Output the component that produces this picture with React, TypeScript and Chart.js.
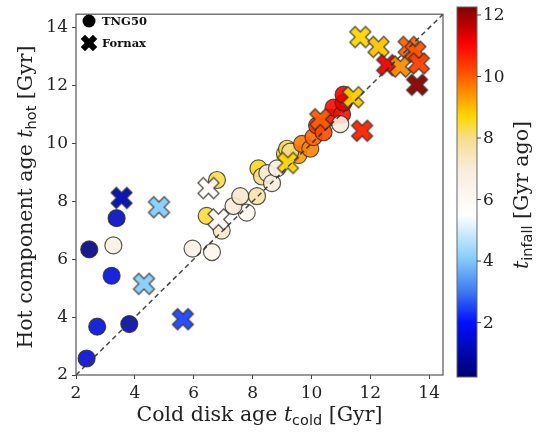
import { useEffect, useRef } from "react";
import { Chart, registerables } from "chart.js";

Chart.register(...registerables);

// TNG50 satellites: cold-disk age, hot-component age, infall time (Gyr)
const tngCold = [2.45, 3.38, 3.27, 3.21, 2.72, 3.81, 2.36, 5.96, 6.62, 6.95, 6.44, 6.79, 7.8, 7.35, 7.58, 8.15, 8.2, 8.32, 8.5, 8.66, 8.83, 9.1, 9.17, 9.56, 9.28, 9.68, 9.96, 10.07, 10.19, 10.41, 10.64, 10.75, 11.04, 11.09, 11.09, 10.98];
const tngHot = [6.34, 7.42, 6.48, 5.43, 3.67, 3.76, 2.57, 6.37, 6.25, 6.99, 7.5, 8.74, 7.61, 7.84, 8.18, 8.18, 9.14, 8.86, 8.98, 8.63, 9.14, 9.65, 9.82, 9.6, 9.72, 9.99, 9.82, 10.22, 10.62, 10.39, 10.9, 11.24, 11.01, 11.41, 11.69, 10.67];
const tngInfall = [0.4, 1.3, 6.6, 1.6, 1.6, 1.0, 1.5, 6.6, 6.2, 7.2, 8.4, 8.3, 6.0, 7.0, 7.2, 7.6, 8.6, 8.0, 7.0, 6.9, 6.6, 8.5, 8.3, 9.3, 8.0, 9.7, 9.6, 9.9, 10.5, 10.2, 10.9, 11.0, 10.9, 11.3, 11.2, 7.0];

// Fornax galaxies
const fnxCold = [3.55, 4.82, 4.31, 5.63, 6.5, 6.84, 9.2, 10.3, 11.42, 11.72, 11.66, 12.28, 12.57, 13.02, 13.3, 13.53, 13.65, 13.59];
const fnxHot = [8.12, 7.8, 5.15, 3.93, 8.46, 7.38, 9.33, 10.84, 11.6, 10.44, 13.68, 13.34, 12.71, 12.66, 13.34, 13.17, 12.77, 12.03];
const fnxInfall = [1.1, 4.1, 4.1, 2.5, 5.8, 5.7, 8.7, 10.0, 8.8, 10.7, 8.7, 8.9, 11.2, 9.5, 9.9, 10.1, 10.3, 12.2];

const axisTicks = [2, 4, 6, 8, 10, 12, 14];
const axisMin = 2;
const axisMax = 14.47;
const oneToOne = [2, 14.47];

const colorbarTicks = [2, 4, 6, 8, 10, 12];
const infallMin = 0.23;
const infallMax = 12.26;

const legendLabels = ["TNG50", "Fornax"];

// diverging map: navy -> blue -> sky -> white -> cream -> gold -> orange -> red -> dark red
const cmapStops: [number, number[]][] = [
  [0.0, [0, 0, 112]],
  [0.147, [0, 16, 250]],
  [0.23, [60, 120, 240]],
  [0.322, [135, 206, 250]],
  [0.438, [255, 255, 255]],
  [0.563, [248, 236, 220]],
  [0.646, [247, 221, 140]],
  [0.704, [255, 215, 0]],
  [0.762, [255, 150, 0]],
  [0.837, [255, 64, 0]],
  [0.903, [250, 0, 0]],
  [1.0, [128, 0, 0]],
];

function cmap(v: number, alpha = 1): string {
  let f = (v - infallMin) / (infallMax - infallMin);
  f = Math.max(0, Math.min(1, f));
  for (let i = 1; i < cmapStops.length; i++) {
    const [f1, c1] = cmapStops[i];
    const [f0, c0] = cmapStops[i - 1];
    if (f <= f1) {
      const t = (f - f0) / (f1 - f0);
      const c = c0.map((a, k) => Math.round(a + (c1[k] - a) * t));
      return `rgba(${c[0]},${c[1]},${c[2]},${alpha})`;
    }
  }
  const c = cmapStops[cmapStops.length - 1][1];
  return `rgba(${c[0]},${c[1]},${c[2]},${alpha})`;
}

const EDGE = "rgba(45,45,35,0.8)";
const FONT_SERIF = "'DejaVu Serif', serif";
const FONT_SANS = "'DejaVu Sans', sans-serif";

// filled "X" marker, cached per colour
const xCache = new Map<string, HTMLCanvasElement>();
function xMarker(fill: string, size: number, edge: string, lw: number): HTMLCanvasElement {
  const key = `${fill}|${size}|${edge}|${lw}`;
  const hit = xCache.get(key);
  if (hit) return hit;
  const S = Math.ceil(size + 4);
  const c = document.createElement("canvas");
  c.width = S;
  c.height = S;
  const g = c.getContext("2d")!;
  g.translate(S / 2, S / 2);
  g.rotate(Math.PI / 4);
  const u = size / 5.657;
  const pts = [[-1, -3], [1, -3], [1, -1], [3, -1], [3, 1], [1, 1], [1, 3], [-1, 3], [-1, 1], [-3, 1], [-3, -1], [-1, -1]];
  g.beginPath();
  pts.forEach(([a, b], i) => (i ? g.lineTo(a * u, b * u) : g.moveTo(a * u, b * u)));
  g.closePath();
  g.fillStyle = fill;
  g.fill();
  g.lineJoin = "miter";
  g.lineWidth = lw;
  g.strokeStyle = edge;
  g.stroke();
  xCache.set(key, c);
  return c;
}

type Part = { t: string; font: string; dy?: number };

function drawParts(ctx: CanvasRenderingContext2D, parts: Part[], cx: number, cy: number, angle: number) {
  ctx.save();
  ctx.translate(cx, cy);
  ctx.rotate(angle);
  ctx.textBaseline = "alphabetic";
  ctx.textAlign = "left";
  let total = 0;
  const widths = parts.map((p) => {
    ctx.font = p.font;
    const w = ctx.measureText(p.t).width;
    total += w;
    return w;
  });
  let x = -total / 2;
  parts.forEach((p, i) => {
    ctx.font = p.font;
    ctx.fillText(p.t, x, p.dy || 0);
    x += widths[i];
  });
  ctx.restore();
}

const decorPlugin = {
  id: "decor",
  afterDraw(chart: any) {
    const ctx: CanvasRenderingContext2D = chart.ctx;
    const a = chart.chartArea;
    ctx.save();
    // frame
    ctx.strokeStyle = "#555";
    ctx.lineWidth = 1.2;
    ctx.strokeRect(a.left, a.top, a.right - a.left, a.bottom - a.top);

    ctx.fillStyle = "#222";
    // axis titles
    const big = `20.5px ${FONT_SERIF}`;
    const it = `italic 20.5px ${FONT_SERIF}`;
    const sub = `14.5px ${FONT_SANS}`;
    drawParts(ctx, [
      { t: "Cold disk age ", font: big },
      { t: "t", font: it },
      { t: "cold", font: sub, dy: 4 },
      { t: " [Gyr]", font: big },
    ], (a.left + a.right) / 2, 421, 0);
    drawParts(ctx, [
      { t: "Hot component age ", font: big },
      { t: "t", font: it },
      { t: "hot", font: sub, dy: 4 },
      { t: " [Gyr]", font: big },
    ], 32, 197, -Math.PI / 2);

    // colour bar
    const bx = 457, bw = 20, bt = 7, bb = 377;
    for (let y = bt; y < bb; y++) {
      const v = infallMax - ((y + 0.5 - bt) / (bb - bt)) * (infallMax - infallMin);
      ctx.fillStyle = cmap(v);
      ctx.fillRect(bx, y, bw, 1);
    }
    ctx.strokeStyle = "#666";
    ctx.lineWidth = 1;
    ctx.strokeRect(bx, bt, bw, bb - bt);
    ctx.fillStyle = "#222";
    ctx.font = `17px ${FONT_SERIF}`;
    ctx.textBaseline = "middle";
    ctx.textAlign = "left";
    colorbarTicks.forEach((tv) => {
      const y = bb - ((tv - infallMin) / (infallMax - infallMin)) * (bb - bt);
      ctx.beginPath();
      ctx.moveTo(bx + bw, y);
      ctx.lineTo(bx + bw + 4, y);
      ctx.strokeStyle = "#444";
      ctx.stroke();
      ctx.fillText(String(tv), bx + bw + 6, y + 1);
    });
    drawParts(ctx, [
      { t: "t", font: it },
      { t: "infall", font: sub, dy: 4 },
      { t: " [Gyr ago]", font: big },
    ], 528, 195, -Math.PI / 2);

    // legend
    const lx = 89;
    const ly = [21, 43];
    ctx.fillStyle = "#000";
    ctx.beginPath();
    ctx.arc(lx, ly[0], 6.5, 0, Math.PI * 2);
    ctx.fill();
    const xm = xMarker("#000", 16, "#000", 0.5);
    ctx.drawImage(xm, lx - xm.width / 2, ly[1] - xm.height / 2);
    ctx.font = `bold 11.5px ${FONT_SERIF}`;
    ctx.textBaseline = "middle";
    ctx.fillStyle = "#111";
    legendLabels.forEach((lab, i) => ctx.fillText(lab, 102, ly[i] + 1));
    ctx.restore();
  },
};

export default function App() {
  const ref = useRef<HTMLCanvasElement>(null);

  useEffect(() => {
    if (!ref.current) return;
    const tickCfg = {
      font: { family: FONT_SERIF, size: 17 },
      color: "#222",
      padding: 4,
      includeBounds: false,
      autoSkip: false,
    };
    const gridCfg = {
      display: true,
      drawOnChartArea: false,
      drawTicks: true,
      tickLength: 4,
      color: "#444",
    };
    const chart = new Chart(ref.current, {
      type: "scatter",
      data: {
        datasets: [
          {
            label: "1:1",
            data: oneToOne.map((v) => ({ x: v, y: v })),
            showLine: true,
            borderColor: "rgba(50,50,50,0.9)",
            borderWidth: 1.5,
            borderDash: [5, 3.5],
            pointRadius: 0,
            order: 0,
          },
          {
            label: legendLabels[1],
            data: fnxCold.map((x, i) => ({ x, y: fnxHot[i] })),
            pointStyle: (c: any) => xMarker(cmap(fnxInfall[c.dataIndex] ?? 6, 0.95), 21, EDGE, 1.3),
            pointRadius: 10,
            order: 1,
          },
          {
            label: legendLabels[0],
            data: tngCold.map((x, i) => ({ x, y: tngHot[i] })),
            pointStyle: "circle",
            pointRadius: 8.5,
            backgroundColor: (c: any) => cmap(tngInfall[c.dataIndex] ?? 6, 0.9),
            borderColor: EDGE,
            borderWidth: 1.2,
            order: 2,
          },
        ],
      },
      options: {
        animation: false,
        responsive: false,
        events: [],
        layout: { padding: { left: 0, top: 7, right: 93, bottom: 0 } },
        plugins: { legend: { display: false }, tooltip: { enabled: false } },
        scales: {
          x: {
            type: "linear",
            min: axisMin,
            max: axisMax,
            afterBuildTicks: (s: any) => {
              s.ticks = axisTicks.map((v) => ({ value: v }));
            },
            afterFit: (s: any) => {
              s.height = 59;
            },
            ticks: { ...tickCfg, maxRotation: 0 },
            grid: gridCfg,
            border: { display: false },
          },
          y: {
            type: "linear",
            min: axisMin,
            max: axisMax,
            afterBuildTicks: (s: any) => {
              s.ticks = axisTicks.map((v) => ({ value: v }));
            },
            afterFit: (s: any) => {
              s.width = 76;
            },
            ticks: tickCfg,
            grid: gridCfg,
            border: { display: false },
          },
        },
      },
      plugins: [decorPlugin],
    } as any);
    return () => chart.destroy();
  }, []);

  return (
    <div style={{ position: "absolute", left: 0, top: 0, width: 536, height: 434, background: "#fff" }}>
      <canvas ref={ref} width={536} height={434} style={{ display: "block" }} />
    </div>
  );
}
